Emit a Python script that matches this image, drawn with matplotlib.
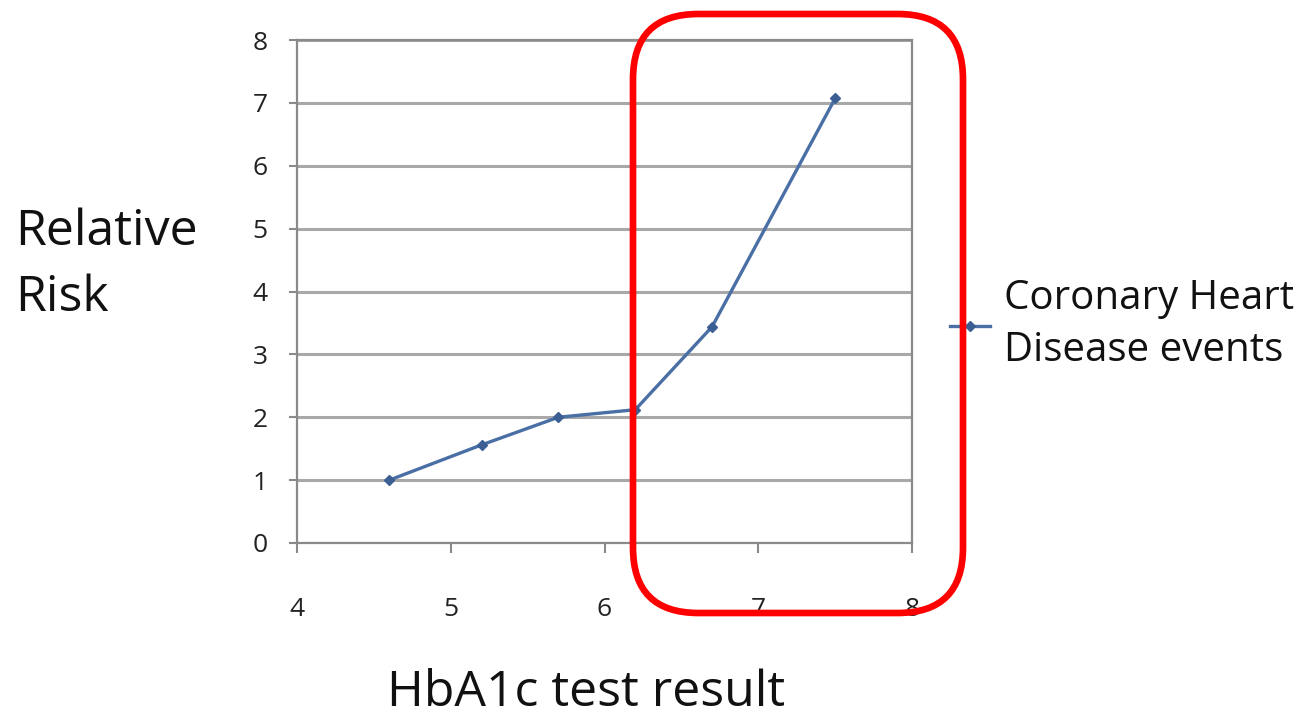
import matplotlib
matplotlib.use("Agg")
import matplotlib.pyplot as plt
from matplotlib.patches import FancyBboxPatch

hba1c = [4.6, 5.2, 5.7, 6.2, 6.7, 7.5]
relative_risk = [1.0, 1.56, 2.0, 2.12, 3.44, 7.07]
series_name = "Coronary Heart\nDisease events"
x_ticks = [4, 5, 6, 7, 8]
y_ticks = [0, 1, 2, 3, 4, 5, 6, 7, 8]

W, H = 1308, 718
fig = plt.figure(figsize=(W / 100, H / 100), dpi=100)
plt.rcParams['font.family'] = ['Open Sans', 'DejaVu Sans']

ax = fig.add_axes([297 / W, 1 - 543 / H, 615 / W, 503 / H])
ax.plot(hba1c, relative_risk, color='#4a6fa5', lw=2.4, marker='D', ms=5.5,
        markerfacecolor='#3c5f93', markeredgecolor='#3c5f93', label=series_name)
ax.set_xlim(4, 8)
ax.set_ylim(0, 8)
ax.set_xticks(x_ticks)
ax.set_yticks(y_ticks)
ax.grid(axis='y', color='#a8a8a8', lw=2.2)
ax.set_axisbelow(True)
for s in ax.spines.values():
    s.set_color('#8a8a8a')
    s.set_linewidth(1.6)
ax.tick_params(axis='x', direction='out', length=7, width=1.5, color='#8a8a8a',
               labelsize=19, labelcolor='#222222', pad=32)
ax.tick_params(axis='y', direction='out', length=6, width=1.5, color='#8a8a8a',
               labelsize=19, labelcolor='#222222', pad=15)

leg = ax.legend(loc='center left', bbox_to_anchor=(950 / W, 1 - 325 / H),
                bbox_transform=fig.transFigure, frameon=False, fontsize=29,
                handlelength=1.0, handletextpad=0.35, borderpad=0.0,
                borderaxespad=0.0)
for t in leg.get_texts():
    t.set_linespacing(1.38)
    t.set_color('#111111')

fig.text(15 / W, 1 - 265 / H, "Relative\nRisk", fontsize=36, color='#111111',
         ha='left', va='center', linespacing=1.45)
fig.text(586 / W, 1 - 693 / H, "HbA1c test result", fontsize=36, color='#111111',
         ha='center', va='center')

box = FancyBboxPatch((633 / W, 1 - 613 / H), (963 - 633) / W, (613 - 14) / H,
                     boxstyle="round,pad=0,rounding_size=0.05",
                     transform=fig.transFigure, fill=False, edgecolor='#ff0000',
                     lw=4.8, mutation_aspect=W / H)
fig.patches.append(box)

fig.savefig("out.png", dpi=100)
